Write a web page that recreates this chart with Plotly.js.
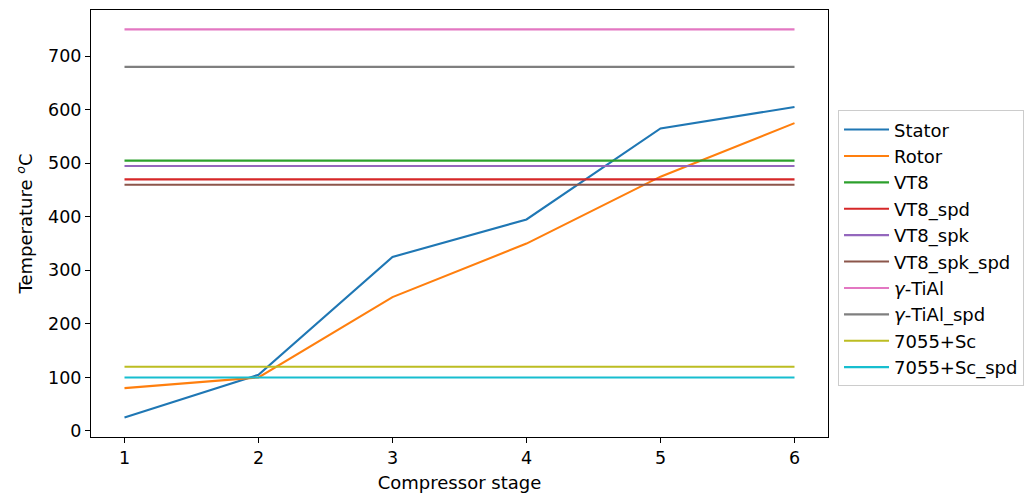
<!DOCTYPE html>
<html><head><meta charset="utf-8">
<script src="https://cdn.plot.ly/plotly-3.0.1.min.js"></script>
<style>body{margin:0;padding:0;background:#fff}#chart{width:1035px;height:498px}</style>
</head><body><div id="chart"></div>
<script>
const stages = [1, 2, 3, 4, 5, 6];
const stator = [25, 105, 325, 395, 565, 605];
const rotor = [80, 100, 250, 350, 475, 575];
const vt8 = 505;
const vt8Spd = 470;
const vt8Spk = 495;
const vt8SpkSpd = 460;
const tial = 750;
const tialSpd = 680;
const al7055 = 120;
const al7055Spd = 100;

const names = ['Stator','Rotor','VT8','VT8_spd','VT8_spk','VT8_spk_spd','<i>γ</i>-TiAl','<i>γ</i>-TiAl_spd','7055+Sc','7055+Sc_spd'];
const colors = ['#1f77b4','#ff7f0e','#2ca02c','#d62728','#9467bd','#8c564b','#e377c2','#7f7f7f','#bcbd22','#17becf'];
const series = [stator, rotor,
  stages.map(()=>vt8), stages.map(()=>vt8Spd), stages.map(()=>vt8Spk), stages.map(()=>vt8SpkSpd),
  stages.map(()=>tial), stages.map(()=>tialSpd), stages.map(()=>al7055), stages.map(()=>al7055Spd)];

const data = series.map((y,i)=>({x: stages, y: y, type:'scatter', mode:'lines', name: names[i],
  legendgroup: 'g'+i,
  line:{color: colors[i], width: 2.1}}));

const font = {family:'DejaVu Sans', size:18, color:'#000'};
const tickfont = {family:'DejaVu Sans', size:17.5, color:'#000'};
const layout = {
  width:1035, height:498,
  margin:{l:91, r:207, t:10, b:61},
  paper_bgcolor:'#fff', plot_bgcolor:'#fff',
  font: font,
  showlegend:true,
  xaxis:{range:[0.75,6.25], tickvals: stages, showgrid:false, zeroline:false, tickfont: tickfont,
    showline:true, mirror:true, linecolor:'#000', linewidth:1, ticks:'outside', ticklen:5, tickcolor:'#000',
    title:{text:'Compressor stage', font:font, standoff:9}},
  yaxis:{range:[-11.25,786.25], tickvals:[0,100,200,300,400,500,600,700], showgrid:false, zeroline:false, tickfont: tickfont,
    showline:true, mirror:true, linecolor:'#000', linewidth:1, ticks:'outside', ticklen:5, tickcolor:'#000',
    title:{text:'Temperature <i><sup>o</sup></i>C', font:font, standoff:10}},
  legend:{x:1.0136, xanchor:'left', y:0.765, yanchor:'top', bordercolor:'#cccccc', borderwidth:1,
    bgcolor:'#fff', font:font, itemwidth:45, tracegroupgap:0}
};
Plotly.newPlot('chart', data, layout, {displayModeBar:false});
</script></body></html>
